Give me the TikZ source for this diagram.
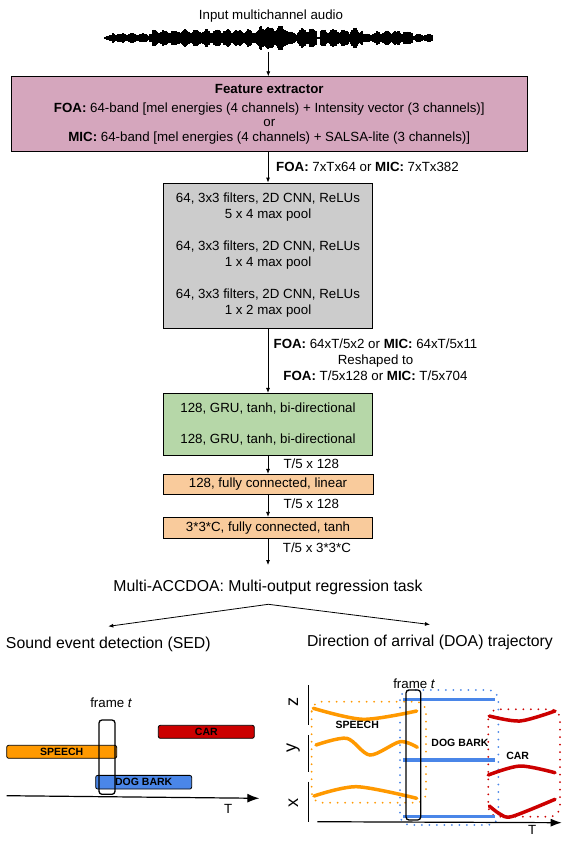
\documentclass[tikz,border=0pt]{standalone}
\usepackage{fontspec}
\setmainfont{Liberation Sans}
\usetikzlibrary{arrows.meta}
\definecolor{featpink}{HTML}{D5A6BD}
\definecolor{cnngray}{HTML}{CCCCCC}
\definecolor{grugreen}{HTML}{B6D7A8}
\definecolor{fcpeach}{HTML}{F9CB9C}
\definecolor{speechorange}{HTML}{FF9900}
\definecolor{dogblue}{HTML}{4A86E8}
\definecolor{carred}{HTML}{CC0000}

\begin{document}
\begin{tikzpicture}[x=1pt,y=-1pt,
    box/.style={draw,line width=0.8pt,align=center,inner sep=0pt,font=\fontsize{13.3}{16}\selectfont},
    arr/.style={-{Latex[length=5pt,width=4pt]},line width=0.8pt},
    lbl/.style={anchor=base west,inner sep=0pt,font=\fontsize{13.3}{16}\selectfont},
    txt/.style={anchor=base,inner sep=0pt,font=\fontsize{13.3}{16}\selectfont},
    big/.style={anchor=base,inner sep=0pt,font=\fontsize{15.8}{18}\selectfont},
    bar/.style={draw,line width=0.8pt,rounded corners=2pt,inner sep=0pt,font=\fontsize{10.5}{12}\selectfont\bfseries},
    tag/.style={inner sep=0pt,font=\fontsize{10.5}{12}\selectfont\bfseries},
    frm/.style={draw,line width=1.3pt,rounded corners=3pt},
    trk/.style={line width=3.5pt,line cap=round},
    dots/.style={line width=2pt,line cap=round,dash pattern=on 0pt off 7.5pt,rounded corners=10pt}]
  \useasboundingbox[fill=white] (0,0) rectangle (570,864);

  \node[txt] (audio) at (271,20) {Input multichannel audio};
  \pgfmathsetseed{3}
  \draw[line width=1.4pt] (105,38) -- (432,38);
  \foreach \xa/\xb/\amp in {105/112/3,113/152/5,153/178/8.5,179/259/9,260/287/13,288/299/7,300/316/10,
                            317/320/2,321/352/9,353/362/11,363/376/5,377/412/8,413/432/4} {
    \foreach \x in {\xa,...,\xb} {
      \pgfmathsetmacro\h{\amp*(0.5+0.5*abs(sin(\x*17)))*(0.75+0.25*rnd)}
      \draw[line width=1.1pt] (\x,38-\h) -- (\x,38+\h);
    }
  }
  \coordinate (wavebot) at (268.3,52);

  \node[box,fill=featpink,minimum width=515.3pt,minimum height=75pt,
        font=\fontsize{13.3}{14.5}\selectfont] (feat) at (269.3,114.2)
    {\textbf{Feature extractor}\\[3.8pt]
     \textbf{FOA:} 64-band [mel energies (4 channels) + Intensity vector (3 channels)]\\
     or\\
     \textbf{MIC:} 64-band [mel energies (4 channels) + SALSA-lite (3 channels)]};
  \node[box,fill=cnngray,minimum width=209pt,minimum height=145pt] (cnn) at (268,255.5)
    {64, 3x3 filters, 2D CNN, ReLUs\\5 x 4 max pool\\[16pt]
     64, 3x3 filters, 2D CNN, ReLUs\\1 x 4 max pool\\[16pt]
     64, 3x3 filters, 2D CNN, ReLUs\\1 x 2 max pool};
  \node[box,fill=grugreen,minimum width=209pt,minimum height=61.7pt] (gru) at (268,424.2)
    {128, GRU, tanh, bi-directional\\[14.7pt]128, GRU, tanh, bi-directional};
  \node[box,fill=fcpeach,minimum width=210pt,minimum height=19.7pt] (fcone) at (268,484.2)
    {128, fully connected, linear};
  \node[box,fill=fcpeach,minimum width=209pt,minimum height=21pt] (fctwo) at (268,527.8)
    {3*3*C, fully connected, tanh};

  \node[lbl] (featout) at (276,171.5) {\textbf{FOA:} 7xTx64 or \textbf{MIC:} 7xTx382};
  \node[align=center,inner sep=0pt,font=\fontsize{13.3}{16}\selectfont] (cnnout) at (375.5,360)
    {\textbf{FOA:} 64xT/5x2 or \textbf{MIC:} 64xT/5x11\\Reshaped to\\
     \textbf{FOA:} T/5x128 or \textbf{MIC:} T/5x704};
  \node[lbl] (gruout) at (283.3,468.1) {T/5 x 128};
  \node[lbl] (fconeout) at (283.3,508.8) {T/5 x 128};
  \node[lbl] (fctwoout) at (282.7,552.1) {T/5 x 3*3*C};

  \node[big] (multi) at (268,591.7) {Multi-ACCDOA: Multi-output regression task};
  \coordinate (split) at (268.3,604.3);
  \node[big] (sed) at (108.3,648) {Sound event detection (SED)};
  \node[big] (doa) at (430,646.7) {Direction of arrival (DOA) trajectory};

  \draw[arr] (wavebot) -- (wavebot |- feat.north);
  \draw[arr] (feat.south -| cnn.north) -- (cnn.north);
  \draw[arr] (cnn.south) -- (gru.north);
  \draw[arr] (gru.south) -- (fcone.north);
  \draw[arr] (fcone.south) -- (fctwo.north);
  \draw[arr] (fctwo.south) -- ([yshift=15pt]multi.north);
  \draw[arr] (split) -- ([yshift=10pt]sed.north);
  \draw[arr] (split) -- ([yshift=10.5pt]doa.north);

  \node[txt] (sedframe) at (111.2,707.5) {frame \textit{t}};
  \node[bar,fill=carred,minimum width=96pt,minimum height=13pt] (sedcar) at (206.3,731.8) {CAR};
  \node[bar,fill=speechorange,minimum width=110pt,minimum height=13pt] (sedspeech) at (61.7,751.8) {SPEECH};
  \node[bar,fill=dogblue,minimum width=96pt,minimum height=13.7pt] (seddog) at (143.7,782.2) {DOG BARK};
  \draw[frm] (99,720) rectangle (115,794.3);
  \draw[line width=1.2pt,-{Latex[length=12pt,width=9pt]}] (6.7,795.7) -- (259.3,798.3);
  \node[txt] (sedT) at (228.3,813.8) {T};

  \draw[dots,speechorange] (311.7,701.7) rectangle (426,802.7);
  \draw[dots,dogblue] (400,690) rectangle (498.3,825);
  \draw[dots,carred] (488.3,709.3) rectangle (560,816.7);
  \draw[trk,speechorange] plot[smooth] coordinates {(313.3,708.3) (363,719.3) (416.7,711)};
  \draw[trk,speechorange] plot[smooth] coordinates {(316,745) (346.7,738.3) (370,755) (400,741.7) (417.3,747.3)};
  \draw[trk,speechorange] plot[smooth] coordinates {(314,796) (356.7,786.7) (416.7,798.3)};
  \draw[trk,carred] plot[smooth] coordinates {(489.3,716) (520,721) (555,711)};
  \draw[trk,carred] plot[smooth] coordinates {(488.3,775) (520,766) (555,772.7)};
  \draw[trk,carred] plot[smooth] coordinates {(489.3,806) (500,814) (512,816.5) (555,799.3)};
  \foreach \y in {699.3,760,816.7} {
    \draw[line width=3.5pt,dogblue] (403.3,\y) -- (495,\y);
  }
  \draw[frm] (406,690) rectangle (420.7,820);
  \foreach \ya/\yb in {685/725,735/771.7,781.7/821.7} {
    \draw[line width=1.5pt] (308.3,\ya) -- (308.3,\yb);
  }
  \draw[line width=1.2pt,-{Latex[length=11pt,width=8pt]}] (317.3,821.7) -- (561.7,822.7);
  \node[txt] (doaframe) at (414.2,688.1) {frame \textit{t}};
  \node[rotate=90,inner sep=0pt,font=\fontsize{18}{20}\selectfont] (doaz) at (293.3,701.7) {z};
  \node[rotate=90,inner sep=0pt,font=\fontsize{18}{20}\selectfont] (doay) at (293.3,748.3) {y};
  \node[rotate=90,inner sep=0pt,font=\fontsize{18}{20}\selectfont] (doax) at (293.3,803.3) {x};
  \node[tag] (doaspeech) at (357.3,725.3) {SPEECH};
  \node[tag] (doadog) at (460,742.7) {DOG BARK};
  \node[tag] (doacar) at (517.7,756) {CAR};
  \node[txt] (doaT) at (532.3,834.8) {T};
\end{tikzpicture}
\end{document}
